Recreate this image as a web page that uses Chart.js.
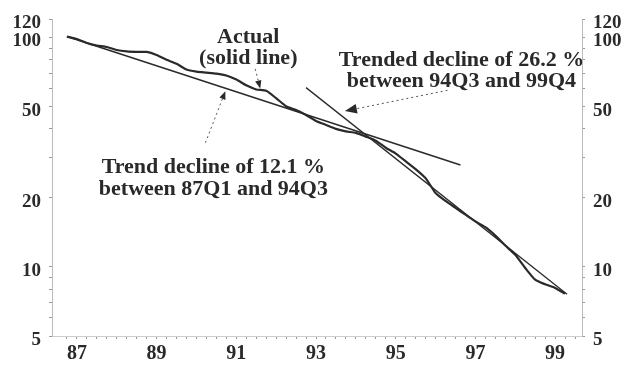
<!DOCTYPE html>
<html>
<head>
<meta charset="utf-8">
<script src="https://cdn.jsdelivr.net/npm/chart.js@4/dist/chart.umd.min.js"></script>
<style>
  html, body { margin: 0; background: #fff; }
  #wrap { width: 630px; height: 368px; }
</style>
</head>
<body>
<div id="wrap"><canvas id="chart"></canvas></div>
<script>
// quarterly series, index 0 = 87Q1
const actualValues = [
  101, 98.5, 94.7, 92.3, 91.0, 88.3, 87.0, 86.6, 86.6, 84.0,
  80.0, 76.9, 72.5, 71.0, 70.3, 69.6, 68.3, 65.6, 61.9, 59.4,
  58.6, 54.4, 50.2, 48.3, 46.0, 43.3, 41.6, 40.0, 39.0, 38.4,
  37.0, 35.5, 33.1, 31.2, 28.9, 26.7, 24.4, 21.0, 19.4, 18.1,
  16.9, 15.8, 14.9, 13.7, 12.4, 11.3, 9.9, 8.8, 8.4, 8.1, 7.65
];

// straight trend lines (log scale), given by their ends
const trend1Q = [0, 39.5];
const trend1Values = [101, 27.8];
const trend2Q = [24, 50.2];
const trend2Values = [60.5, 7.6];

const yearTickQ = [1, 9, 17, 25, 33, 41, 49];
const yearLabels = ['87', '89', '91', '93', '95', '97', '99'];

const yTickValues = [5, 6, 7, 8, 9, 10, 20, 30, 40, 50, 60, 70, 80, 90, 100, 120];
const yLabelValues = [5, 10, 20, 50, 100, 120];

// annotation texts, anchored in data units (quarter index, value)
const noteTexts = ['Actual', '(solid line)', 'Trended decline of 26.2 %', 'between 94Q3 and 99Q4',
                   'Trend decline of 12.1 %', 'between 87Q1 and 94Q3'];
const noteQ = [18.2, 18.2, 39.6, 39.6, 14.7, 14.7];
const noteV = [100, 80.8, 79.5, 64.5, 27.2, 21.9];

// pointers: tail -> tip
const pointerFromQ = [18.9, 13.9, 38.2];
const pointerFromV = [73, 34.8, 58.9];
const pointerToQ = [19.4, 15.9, 27.9];
const pointerToV = [60, 58.3, 47.8];
const pointerHead = [8, 8, 12];

const ink = '#2a2a2a';
const serif = '"Liberation Serif", "DejaVu Serif", serif';

const pts = (xs, ys) => xs.map((x, i) => ({ x: x, y: ys[i] }));

const notes = {
  id: 'notes',
  afterDatasetsDraw(chart) {
    const { ctx, scales } = chart;
    const px = q => scales.x.getPixelForValue(q);
    const py = v => scales.y.getPixelForValue(v);
    ctx.save();
    ctx.fillStyle = ink;
    ctx.font = 'bold 22px ' + serif;
    ctx.textAlign = 'center';
    ctx.textBaseline = 'middle';
    noteTexts.forEach((t, i) => ctx.fillText(t, px(noteQ[i]), py(noteV[i])));

    ctx.strokeStyle = '#555';
    ctx.lineWidth = 1;
    pointerFromQ.forEach((q, i) => {
      const x0 = px(q), y0 = py(pointerFromV[i]);
      const x1 = px(pointerToQ[i]), y1 = py(pointerToV[i]);
      const a = Math.atan2(y1 - y0, x1 - x0);
      const L = pointerHead[i], W = L * 0.4;
      ctx.setLineDash([2, 3]);
      ctx.beginPath();
      ctx.moveTo(x0, y0);
      ctx.lineTo(x1 - L * Math.cos(a), y1 - L * Math.sin(a));
      ctx.stroke();
      ctx.setLineDash([]);
      ctx.beginPath();
      ctx.moveTo(x1, y1);
      ctx.lineTo(x1 - L * Math.cos(a) - W * Math.sin(a), y1 - L * Math.sin(a) + W * Math.cos(a));
      ctx.lineTo(x1 - L * Math.cos(a) + W * Math.sin(a), y1 - L * Math.sin(a) - W * Math.cos(a));
      ctx.closePath();
      ctx.fill();
    });
    ctx.restore();
  }
};

const yAxis = (pos, w) => ({
  type: 'logarithmic',
  position: pos,
  min: 5,
  max: 120,
  afterBuildTicks: s => { s.ticks = yTickValues.map(v => ({ value: v })); },
  afterFit: s => { s.width = w; },
  ticks: {
    autoSkip: false,
    padding: 8,
    labelOffset: 4,
    color: ink,
    font: { family: serif, size: 19, weight: 'bold' },
    callback: v => yLabelValues.includes(v) ? String(v) : ''
  },
  grid: { drawOnChartArea: false, tickLength: 3, color: '#999' },
  border: { display: true, color: '#bbb', dash: [1, 4] }
});

new Chart(document.getElementById('chart'), {
  type: 'line',
  data: {
    datasets: [
      { data: pts(actualValues.map((v, i) => i), actualValues), borderColor: ink, borderWidth: 2.2, pointRadius: 0, tension: 0.2 },
      { data: pts(trend1Q, trend1Values), borderColor: ink, borderWidth: 1.6, pointRadius: 0 },
      { data: pts(trend2Q, trend2Values), borderColor: ink, borderWidth: 1.3, pointRadius: 0 }
    ]
  },
  options: {
    responsive: true,
    maintainAspectRatio: false,
    animation: false,
    layout: { padding: { top: 15, left: 0, right: 0, bottom: 0 } },
    plugins: { legend: { display: false }, tooltip: { enabled: false } },
    scales: {
      x: {
        type: 'linear',
        min: -1.5,
        max: 51.7,
        afterBuildTicks: s => {
          const t = [];
          for (let q = 0; q <= 51; q++) t.push({ value: q });
          s.ticks = t;
        },
        afterFit: s => { s.height = 32; },
        ticks: {
          autoSkip: false,
          maxRotation: 0,
          padding: 3,
          color: ink,
          font: { family: serif, size: 20, weight: 'bold' },
          callback: v => {
            const k = yearTickQ.indexOf(v);
            return k >= 0 ? yearLabels[k] : '';
          }
        },
        grid: { drawOnChartArea: false, tickLength: 3, color: '#999' },
        border: { display: true, color: '#ccc', dash: [1, 4] }
      },
      y: yAxis('left', 52),
      y2: yAxis('right', 48)
    }
  },
  plugins: [notes]
});
</script>
</body>
</html>
